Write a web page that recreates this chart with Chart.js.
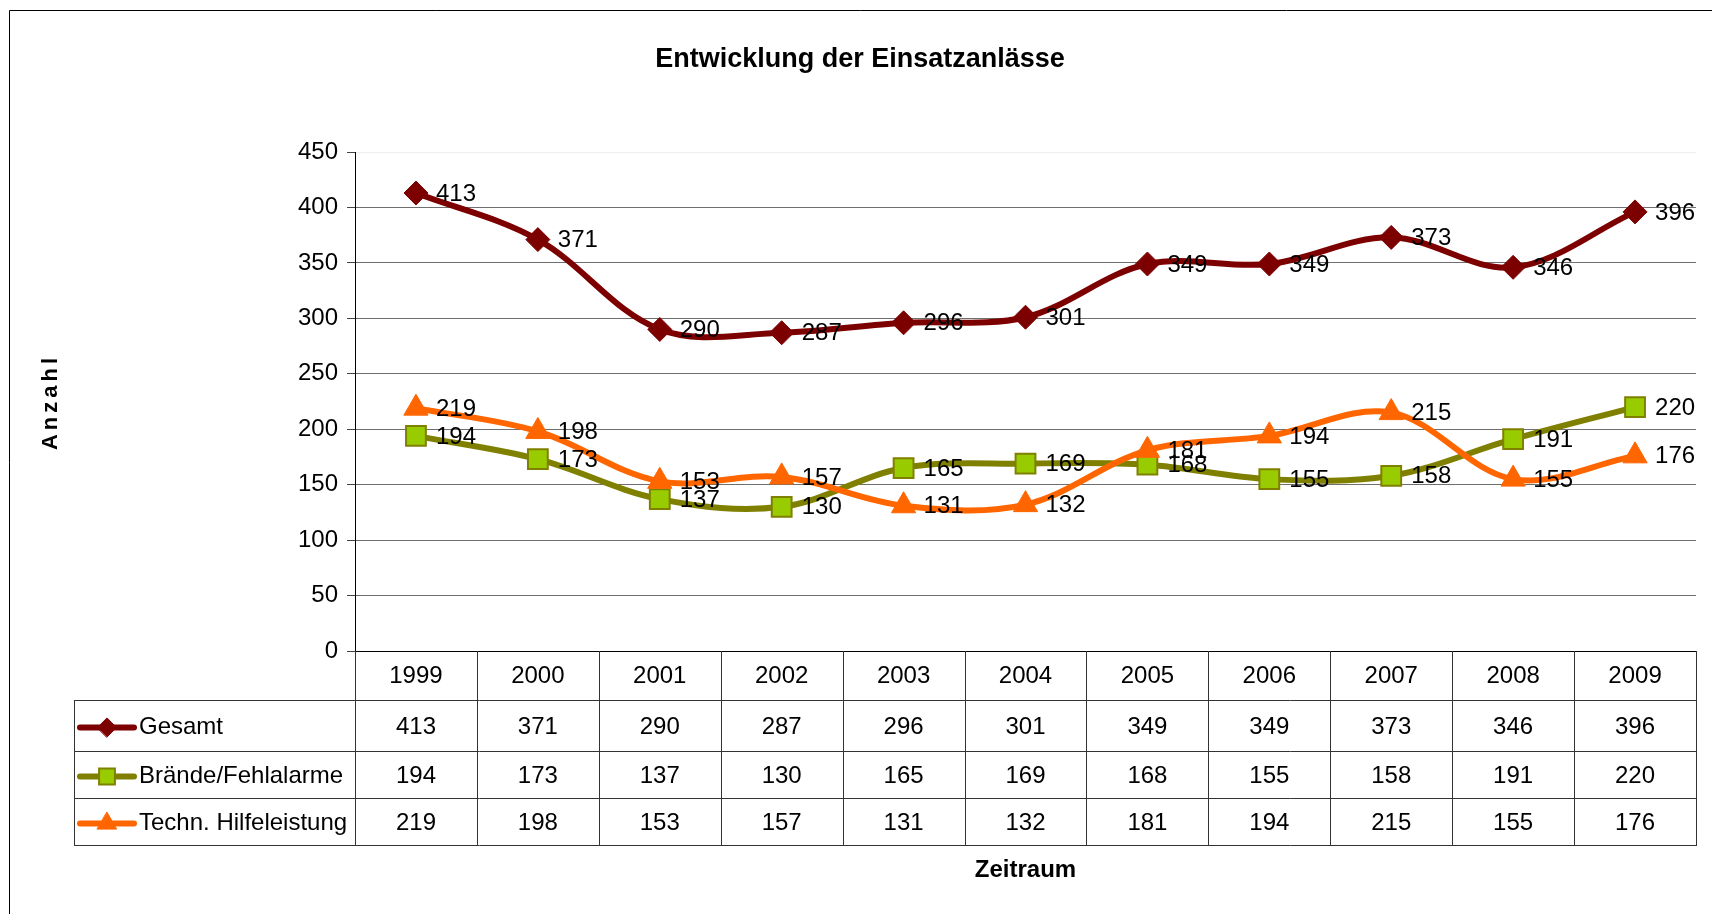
<!DOCTYPE html>
<html>
<head>
<meta charset="utf-8">
<script src="https://cdn.jsdelivr.net/npm/chart.js@4.4.0/dist/chart.umd.min.js"></script>
<style>
  html, body { margin: 0; padding: 0; background: #fff; overflow: hidden; }
</style>
</head>
<body>
<canvas id="chart" width="1712" height="914"></canvas>
<script>
// ── Data ──
const years = ['1999', '2000', '2001', '2002', '2003', '2004', '2005', '2006', '2007', '2008', '2009'];
const gesamt = [413, 371, 290, 287, 296, 301, 349, 349, 373, 346, 396];
const braende = [194, 173, 137, 130, 165, 169, 168, 155, 158, 191, 220];
const technHilfe = [219, 198, 153, 157, 131, 132, 181, 194, 215, 155, 176];
const seriesNames = ['Gesamt', 'Brände/Fehlalarme', 'Techn. Hilfeleistung'];
const yMin = 0;
const yMax = 450;
const yStep = 50;

const FONT = "'Liberation Sans', Arial, sans-serif";
const TXT = 24;

// ── Frame around the whole chart (left + top edge visible) ──
const framePlugin = {
  id: 'frame',
  beforeDraw(chart) {
    const ctx = chart.ctx;
    ctx.save();
    ctx.strokeStyle = '#000';
    ctx.lineWidth = 1;
    ctx.beginPath();
    ctx.moveTo(9.5, chart.height);
    ctx.lineTo(9.5, 10.5);
    ctx.lineTo(chart.width, 10.5);
    ctx.stroke();
    ctx.restore();
  },
};

// ── Value labels right of each point ──
const valueLabels = {
  id: 'valueLabels',
  afterDatasetsDraw(chart) {
    const ctx = chart.ctx;
    ctx.save();
    ctx.font = `${TXT}px ${FONT}`;
    ctx.fillStyle = '#000';
    ctx.textAlign = 'left';
    ctx.textBaseline = 'middle';
    chart.data.datasets.forEach((ds, i) => {
      chart.getDatasetMeta(i).data.forEach((pt, j) => {
        ctx.fillText(String(ds.data[j]), pt.x + 20, pt.y + 1);
      });
    });
    ctx.restore();
  },
};

// ── Data table under the x axis ──
const dataTable = {
  id: 'dataTable',
  afterDraw(chart) {
    const ctx = chart.ctx;
    const xs = chart.scales.x;
    const area = chart.chartArea;
    const colW = (xs.right - xs.left) / years.length;
    const legendLeft = 74;
    const rowTops = [area.bottom, area.bottom + 49, area.bottom + 100, area.bottom + 147, area.bottom + 194];

    ctx.save();
    ctx.strokeStyle = '#333';
    ctx.lineWidth = 1;
    ctx.beginPath();
    for (let r = 1; r < rowTops.length; r++) {
      const y = Math.round(rowTops[r]) + 0.5;
      ctx.moveTo(legendLeft, y);
      ctx.lineTo(xs.right, y);
    }
    ctx.moveTo(legendLeft + 0.5, Math.round(rowTops[1]));
    ctx.lineTo(legendLeft + 0.5, Math.round(rowTops[4]) + 1);
    for (let c = 0; c <= years.length; c++) {
      const x = Math.round(xs.left + c * colW) + 0.5;
      ctx.moveTo(x, Math.round(rowTops[0]));
      ctx.lineTo(x, Math.round(rowTops[4]) + 1);
    }
    ctx.stroke();

    const rows = [gesamt, braende, technHilfe];
    ctx.font = `${TXT}px ${FONT}`;
    ctx.textBaseline = 'middle';
    rows.forEach((vals, r) => {
      const cy = (rowTops[r + 1] + rowTops[r + 2]) / 2 + 2;
      const ds = chart.data.datasets.find(d => d.label === seriesNames[r]);
      // legend key
      ctx.strokeStyle = ds.borderColor;
      ctx.lineWidth = 6;
      ctx.lineCap = 'round';
      ctx.beginPath();
      ctx.moveTo(80, cy);
      ctx.lineTo(134, cy);
      ctx.stroke();
      ctx.fillStyle = ds.pointBackgroundColor;
      ctx.strokeStyle = ds.pointBorderColor;
      ctx.lineWidth = ds.pointBorderWidth;
      Chart.helpers.drawPoint(ctx, {
        pointStyle: ds.pointStyle,
        radius: ds.pointRadius * 0.8,
        borderWidth: ds.pointBorderWidth,
      }, 107, cy);
      ctx.fillStyle = '#000';
      ctx.textAlign = 'left';
      ctx.fillText(seriesNames[r], 139, cy);
      ctx.textAlign = 'center';
      vals.forEach((v, c) => {
        ctx.fillText(String(v), xs.getPixelForValue(c), cy);
      });
    });

    // y axis title, letter-spaced
    ctx.save();
    ctx.translate(51, 402);
    ctx.rotate(-Math.PI / 2);
    ctx.font = `bold 22px ${FONT}`;
    ctx.letterSpacing = '4px';
    ctx.textAlign = 'center';
    ctx.fillText('Anzahl', 0, 0);
    ctx.restore();

    ctx.restore();
  },
};

const ctx = document.getElementById('chart').getContext('2d');
new Chart(ctx, {
  type: 'line',
  data: {
    labels: years,
    datasets: [{
      label: seriesNames[0],
      data: gesamt,
      borderColor: '#7d0000',
      backgroundColor: '#7d0000',
      pointBackgroundColor: '#7d0000',
      pointBorderColor: '#7d0000',
      pointBorderWidth: 1,
      pointStyle: 'rectRot',
      pointRadius: 12,
      borderWidth: 6,
      tension: 0.35,
      order: 2,
    }, {
      label: seriesNames[1],
      data: braende,
      borderColor: '#808000',
      backgroundColor: '#99cc00',
      pointBackgroundColor: '#99cc00',
      pointBorderColor: '#808000',
      pointBorderWidth: 2,
      pointStyle: 'rect',
      pointRadius: 14,
      borderWidth: 6,
      tension: 0.35,
      order: 1,
    }, {
      label: seriesNames[2],
      data: technHilfe,
      borderColor: '#ff6600',
      backgroundColor: '#ff6600',
      pointBackgroundColor: '#ff6600',
      pointBorderColor: '#ff6600',
      pointBorderWidth: 1,
      pointStyle: 'triangle',
      pointRadius: 14,
      borderWidth: 6,
      tension: 0.35,
      order: 0,
    }],
  },
  options: {
    responsive: false,
    animation: false,
    devicePixelRatio: 1,
    layout: { padding: { left: 24, right: 16, top: 0, bottom: 0 } },
    plugins: {
      legend: { display: false },
      tooltip: { enabled: false },
      title: {
        display: true,
        text: 'Entwicklung der Einsatzanlässe',
        color: '#000',
        font: { family: FONT, size: 27, weight: 'bold' },
        padding: { top: 43, bottom: 76.6 },
      },
    },
    scales: {
      x: {
        offset: true,
        grid: { display: false, drawTicks: false },
        border: { display: true, color: '#000', width: 1 },
        ticks: {
          color: '#000',
          font: { family: FONT, size: TXT },
          padding: 11,
          maxRotation: 0,
          autoSkip: false,
        },
        title: {
          display: true,
          text: 'Zeitraum',
          color: '#000',
          font: { family: FONT, size: 24, weight: 'bold' },
          padding: { top: 0, bottom: 29 },
        },
        afterFit: (s) => { s.height = 263; },
      },
      y: {
        min: yMin,
        max: yMax,
        border: { display: true, color: '#000', width: 1 },
        grid: {
          color: (c) => c.tick.value === yMax ? '#eeeeee' : (c.tick.value === yMin ? '#000' : '#6f6f6f'),
          tickColor: '#444',
          tickLength: 8,
          lineWidth: 1,
        },
        ticks: {
          stepSize: yStep,
          color: '#000',
          font: { family: FONT, size: TXT },
          padding: 9,
        },
        afterFit: (s) => { s.width = 331; },
      },
    },
  },
  plugins: [framePlugin, valueLabels, dataTable],
});
</script>
</body>
</html>
